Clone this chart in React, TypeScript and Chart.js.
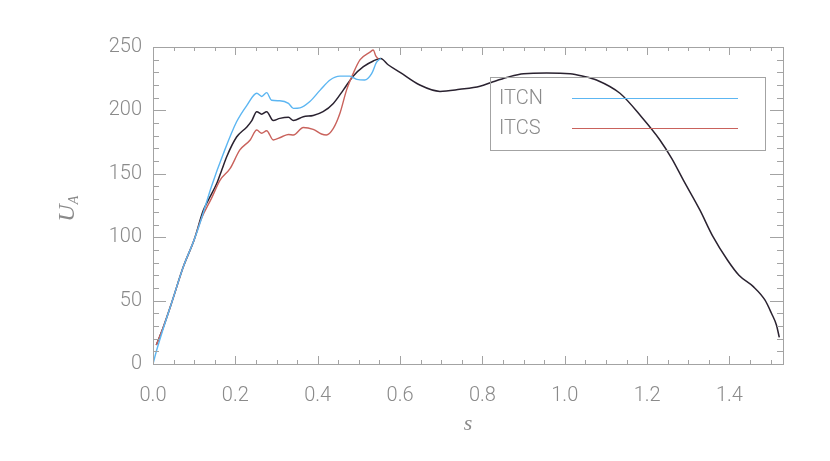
import React, { useEffect, useRef } from "react";
import { Chart, registerables } from "chart.js";

Chart.register(...registerables);

// ITCN (northern) branch
const sITCN = [0, 0.009, 0.025, 0.045, 0.074, 0.1, 0.118, 0.142, 0.171, 0.203, 0.228, 0.252, 0.264, 0.276, 0.288, 0.308, 0.329, 0.341, 0.357, 0.381, 0.406, 0.43, 0.454, 0.478, 0.495, 0.514, 0.531, 0.543, 0.553];
const uITCN = [0, 11, 28, 48, 77, 98, 115, 140, 166, 191, 204, 213.5, 211, 214, 208, 207.6, 205.5, 201.6, 202, 207, 216, 224, 227, 227, 224.5, 224, 229, 238, 241];

// ITCS (southern) branch
const sITCS = [0.008, 0.025, 0.045, 0.074, 0.1, 0.118, 0.142, 0.163, 0.187, 0.211, 0.236, 0.252, 0.264, 0.276, 0.292, 0.312, 0.329, 0.341, 0.365, 0.389, 0.409, 0.421, 0.438, 0.454, 0.47, 0.486, 0.503, 0.527, 0.535, 0.541, 0.547];
const uITCS = [15, 29, 48, 77, 98, 115, 130.6, 145, 154, 168.8, 176.7, 184.5, 182, 184, 176.7, 179, 181, 180.6, 186.5, 185, 181.4, 180.6, 185.8, 197.7, 216, 229, 240, 246, 247.6, 243, 240.5];

// Combined (mean) curve
const sMean = [0.008, 0.025, 0.045, 0.074, 0.1, 0.122, 0.134, 0.155, 0.167, 0.179, 0.203, 0.228, 0.24, 0.252, 0.264, 0.276, 0.292, 0.308, 0.329, 0.341, 0.365, 0.389, 0.413, 0.438, 0.462, 0.486, 0.511, 0.535, 0.553, 0.571, 0.6, 0.648, 0.697, 0.745, 0.794, 0.826, 0.859, 0.9, 0.956, 1.013, 1.045, 1.077, 1.134, 1.186, 1.231, 1.26, 1.288, 1.328, 1.36, 1.395, 1.423, 1.458, 1.486, 1.502, 1.514, 1.521];
const uMean = [15, 29, 48, 77, 98, 121, 129, 142.5, 153, 163.5, 179, 187, 192, 199, 197, 199, 192, 193.7, 194.5, 192, 195, 196, 199, 205.5, 216, 227, 234.5, 239, 241, 236, 230, 220, 215, 216.6, 219, 222.6, 226, 229, 229.5, 229, 227, 224, 213.5, 195, 176.7, 162, 145, 121.5, 100.4, 82, 70, 61, 50.5, 40, 30.8, 21];

const xTickLabels = ["0.0", "0.2", "0.4", "0.6", "0.8", "1.0", "1.2", "1.4"];
const yTickLabels = ["0", "50", "100", "150", "200", "250"];

const X_MIN = 0;
const X_MAX = 1.53;
const Y_MIN = 0;
const Y_MAX = 250;

const AXIS_COLOR = "#a3a3a3";
const TEXT_COLOR = "#8a8a8a";
const BLUE = "#5cb6f2";
const RED = "#c9625c";
const BLACK = "#2a2230";

const pts = (xs: number[], ys: number[]) => xs.map((x, i) => ({ x, y: ys[i] }));

const framePlugin = {
  id: "idlFrame",
  afterDatasetsDraw(chart: any) {
    const { ctx, chartArea: a, scales } = chart;
    const xs = scales.x;
    const ys = scales.y;
    ctx.save();
    ctx.strokeStyle = AXIS_COLOR;
    ctx.lineWidth = 1;
    ctx.strokeRect(Math.round(a.left) + 0.5, Math.round(a.top) + 0.5, Math.round(a.right - a.left), Math.round(a.bottom - a.top));
    ctx.beginPath();
    for (let i = 0; i <= 40; i++) {
      const v = i * 0.05;
      if (v > X_MAX + 1e-9) break;
      const px = Math.round(xs.getPixelForValue(v)) + 0.5;
      const major = i % 4 === 0;
      const len = major ? 8 : 4;
      ctx.moveTo(px, a.bottom);
      ctx.lineTo(px, a.bottom - len);
      ctx.moveTo(px, a.top);
      ctx.lineTo(px, a.top + len);
    }
    for (let v = Y_MIN; v <= Y_MAX; v += 10) {
      const py = Math.round(ys.getPixelForValue(v)) + 0.5;
      const major = v % 50 === 0;
      const len = major ? 13 : 6;
      ctx.moveTo(a.left, py);
      ctx.lineTo(a.left + len, py);
      ctx.moveTo(a.right, py);
      ctx.lineTo(a.right - len, py);
    }
    ctx.stroke();

    // legend box
    const lx = 490.5, ly = 77.5, lw = 275, lh = 73;
    ctx.strokeRect(lx, ly, lw, lh);
    ctx.font = "300 20px Roboto";
    ctx.textBaseline = "middle";
    ctx.textAlign = "left";
    const items = [
      { label: chart.data.datasets[0].label, color: BLUE, y: 98 },
      { label: chart.data.datasets[1].label, color: RED, y: 128 },
    ];
    items.forEach((it) => {
      ctx.fillStyle = TEXT_COLOR;
      ctx.fillText(it.label, 499, it.y + 1);
      ctx.strokeStyle = it.color;
      ctx.lineWidth = 1;
      ctx.beginPath();
      ctx.moveTo(572, it.y + 0.5);
      ctx.lineTo(738, it.y + 0.5);
      ctx.stroke();
    });

    // axis titles
    ctx.fillStyle = TEXT_COLOR;
    ctx.textAlign = "center";
    ctx.textBaseline = "alphabetic";
    ctx.font = "italic 22px 'Liberation Serif'";
    ctx.fillText("s", (a.left + a.right) / 2, 430);

    ctx.translate(74, 209);
    ctx.rotate(-Math.PI / 2);
    ctx.textAlign = "left";
    ctx.font = "italic 24px 'Liberation Serif'";
    const uw = ctx.measureText("U").width;
    ctx.fillText("U", -uw / 2 - 4, 0);
    ctx.font = "italic 14px 'Liberation Serif'";
    ctx.fillText("A", uw / 2 - 4, 4);
    ctx.restore();
  },
};

export default function App() {
  const ref = useRef<HTMLCanvasElement | null>(null);
  useEffect(() => {
    if (!ref.current) return;
    const chart = new Chart(ref.current, {
      type: "line",
      data: {
        datasets: [
          { label: "ITCN", data: pts(sITCN, uITCN), borderColor: BLUE, borderWidth: 1.4, pointRadius: 0, cubicInterpolationMode: "monotone", fill: false },
          { label: "ITCS", data: pts(sITCS, uITCS), borderColor: RED, borderWidth: 1.4, pointRadius: 0, cubicInterpolationMode: "monotone", fill: false },
          { label: "Mean", data: pts(sMean, uMean), borderColor: BLACK, borderWidth: 1.5, pointRadius: 0, cubicInterpolationMode: "monotone", fill: false },
        ],
      },
      options: {
        responsive: false,
        animation: false,
        layout: { padding: { top: 47, right: 47, left: 0, bottom: 0 } },
        plugins: { legend: { display: false }, tooltip: { enabled: false } },
        scales: {
          x: {
            type: "linear",
            min: X_MIN,
            max: X_MAX,
            grid: { display: false, drawTicks: false },
            border: { display: false },
            ticks: {
              stepSize: 0.2,
              includeBounds: false,
              padding: 20,
              color: TEXT_COLOR,
              font: { family: "Roboto", size: 20, weight: "300" as any },
              callback: (v: any) => {
                const idx = Math.round(Number(v) / 0.2);
                return xTickLabels[idx] ?? "";
              },
              maxRotation: 0,
            },
            afterFit: (s: any) => { s.height = 97; },
          },
          y: {
            min: Y_MIN,
            max: Y_MAX,
            grid: { display: false, drawTicks: false },
            border: { display: false },
            ticks: {
              stepSize: 50,
              padding: 11,
              color: TEXT_COLOR,
              font: { family: "Roboto", size: 20, weight: "300" as any },
              callback: (v: any) => {
                const idx = Math.round(Number(v) / 50);
                return yTickLabels[idx] ?? "";
              },
            },
            afterFit: (s: any) => { s.width = 153; },
          },
        },
      },
      plugins: [framePlugin],
    });
    return () => chart.destroy();
  }, []);
  return (
    <div style={{ position: "absolute", left: 0, top: 0, width: 830, height: 461, background: "#fff" }}>
      <canvas ref={ref} width={830} height={461} />
    </div>
  );
}
